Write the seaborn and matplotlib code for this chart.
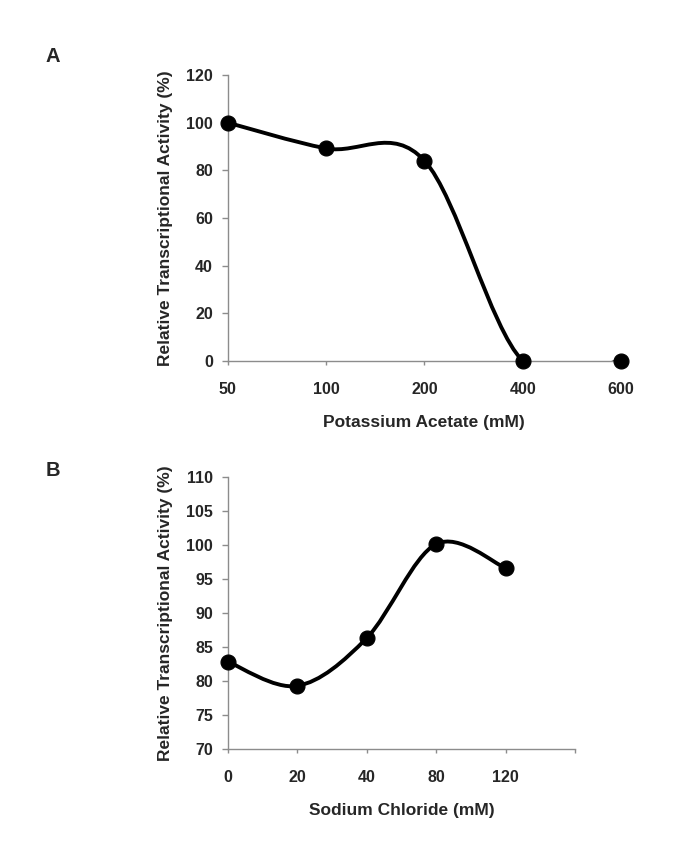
import numpy as np
import matplotlib
matplotlib.use("Agg")
import matplotlib.pyplot as plt
from matplotlib.path import Path
from matplotlib.patches import PathPatch
import seaborn as sns

# panel A data
kac_labels = ["50", "100", "200", "400", "600"]
kac_activity = [100.0, 89.2, 84.1, 0.0, 0.0]

# panel B data
nacl_labels = ["0", "20", "40", "80", "120"]
nacl_activity = [82.85, 79.3, 86.3, 100.1, 96.6]

sns.set_style("white")
plt.rcParams["font.family"] = ["Liberation Sans", "DejaVu Sans"]
plt.rcParams["font.weight"] = "bold"

AXIS_GREY = "#8c8c8c"


def smooth_path(xs, ys):
    # Excel-like smoothed line: Catmull-Rom segments as cubic Bezier curves
    pts = np.column_stack([xs, ys]).astype(float)
    n = len(pts)
    verts = [pts[0]]
    codes = [Path.MOVETO]
    for i in range(n - 1):
        p0 = pts[max(i - 1, 0)]
        p1 = pts[i]
        p2 = pts[i + 1]
        p3 = pts[min(i + 2, n - 1)]
        c1 = p1 + (p2 - p0) / 6
        c2 = p2 - (p3 - p1) / 6
        verts += [c1, c2, p2]
        codes += [Path.CURVE4] * 3
    return Path(verts, codes)


def draw_panel(ax, labels, values, n_slots, ylim, yticks, xlabel):
    x = np.arange(len(labels))
    ax.add_patch(PathPatch(smooth_path(x, values), facecolor="none",
                           edgecolor="black", linewidth=2.8, zorder=3))
    sns.scatterplot(x=x, y=values, ax=ax, color="black", s=115,
                    edgecolor="black", zorder=4, clip_on=False, legend=False)
    ax.set_xlim(0, n_slots - 1)
    ax.set_ylim(*ylim)
    ax.set_yticks(yticks)
    ax.set_xticks(np.arange(n_slots))
    ax.set_xticklabels(labels + [""] * (n_slots - len(labels)))
    sns.despine(ax=ax)
    for side in ["left", "bottom"]:
        ax.spines[side].set_color(AXIS_GREY)
        ax.spines[side].set_linewidth(1.0)
    ax.tick_params(axis="y", direction="out", length=4.5, width=1,
                   color=AXIS_GREY, labelsize=11.5, pad=6, left=True)
    ax.tick_params(axis="x", direction="out", length=3, width=1,
                   color=AXIS_GREY, labelsize=11.5, pad=12, bottom=True)
    for lab in ax.get_xticklabels() + ax.get_yticklabels():
        lab.set_fontweight("bold")
    ax.set_ylabel("Relative Transcriptional Activity (%)", fontsize=12.5,
                  fontweight="bold", labelpad=9.5)
    ax.set_xlabel(xlabel, fontsize=12.5, fontweight="bold", labelpad=13)


fig = plt.figure(figsize=(6.85, 8.56), dpi=100)

ax_a = fig.add_axes([0.3324, 0.5783, 0.5742, 0.3341])
draw_panel(ax_a, kac_labels, kac_activity, 5, (0, 120),
           [0, 20, 40, 60, 80, 100, 120], "Potassium Acetate (mM)")

ax_b = fig.add_axes([0.3324, 0.1247, 0.5070, 0.3185])
draw_panel(ax_b, nacl_labels, nacl_activity, 6, (70, 110),
           [70, 75, 80, 85, 90, 95, 100, 105, 110], "Sodium Chloride (mM)")

fig.text(52.5 / 685, 1 - 57 / 856, "A", fontsize=14.5, fontweight="bold",
         ha="center", va="center")
fig.text(52.5 / 685, 1 - 471 / 856, "B", fontsize=14.5, fontweight="bold",
         ha="center", va="center")

fig.savefig("out.png", dpi=100, facecolor="white")
